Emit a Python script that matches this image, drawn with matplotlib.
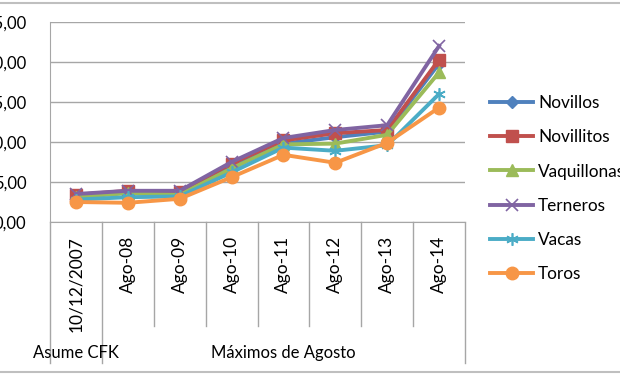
import matplotlib
matplotlib.use("Agg")
import matplotlib.pyplot as plt
from matplotlib.lines import Line2D
import numpy as np

plt.rcParams['font.family'] = ['Lato', 'DejaVu Sans']

categories = ["10/12/2007", "Ago-08", "Ago-09", "Ago-10", "Ago-11", "Ago-12", "Ago-13", "Ago-14"]
groups = ["Asume CFK", "Máximos de Agosto"]
group_sizes = [1, 7]

novillos    = [3.2, 3.7, 3.5, 7.0, 9.8, 10.6, 11.3, 19.8]
novillitos  = [3.4, 3.9, 3.8, 7.3, 10.2, 11.1, 11.5, 20.3]
vaquillonas = [3.1, 3.6, 3.4, 6.7, 9.7, 9.8, 10.9, 18.7]
terneros    = [3.5, 3.9, 3.9, 7.5, 10.5, 11.5, 12.1, 22.0]
vacas       = [2.8, 3.1, 3.2, 6.2, 9.3, 8.9, 9.6, 16.0]
toros       = [2.5, 2.4, 2.9, 5.6, 8.4, 7.4, 9.9, 14.3]

series_names = ["Novillos", "Novillitos", "Vaquillonas", "Terneros", "Vacas", "Toros"]
series_vals = [novillos, novillitos, vaquillonas, terneros, vacas, toros]
colors = ["#4F81BD", "#C0504D", "#9BBB59", "#8064A2", "#4BACC6", "#F79646"]
markers = ["D", "s", "^", "x", (6, 2, 0), "o"]
msizes = [6, 8, 8, 9, 9, 9]

fig = plt.figure(figsize=(6.2, 3.75), dpi=100)
W, H = 620, 375
L, R, T, B = 50, 465, 22, 222
ax = fig.add_axes([L / W, 1 - B / H, (R - L) / W, (B - T) / H])

x = np.arange(len(categories))
for name, vals, c, m, ms in zip(series_names, series_vals, colors, markers, msizes):
    ax.plot(x, vals, color=c, lw=2.8, marker=m, markersize=ms,
            markerfacecolor=c, markeredgecolor=c, markeredgewidth=1.2 if m in ("x", (6, 2, 0)) else 1,
            label=name, solid_joinstyle='round')

ax.set_xlim(-0.5, len(categories) - 0.5)
ax.set_ylim(0, 25)
ax.set_yticks(np.arange(0, 26, 5))
ax.set_yticklabels([f"{v:.2f}".replace(".", ",") for v in np.arange(0, 26, 5)], fontsize=12)
ax.yaxis.grid(True, color="#A6A6A6", lw=1)
ax.set_axisbelow(True)
ax.tick_params(axis='y', length=0, pad=17)
ax.tick_params(axis='x', length=0)
ax.set_xticks([])
for s in ["top", "right"]:
    ax.spines[s].set_visible(False)
ax.spines["left"].set_color("#A6A6A6")
ax.spines["bottom"].set_color("#A6A6A6")

# multi-level category axis
trans = ax.get_xaxis_transform()
px = 1.0 / (B - T)  # one pixel in axes-y units
for i in range(len(categories) + 1):
    xb = i - 0.5
    is_group = xb in (-0.5, 0.5, len(categories) - 0.5)
    ybot = -(363 - B) * px if is_group else -(326 - B) * px
    ax.add_line(Line2D([xb, xb], [0, ybot], transform=trans, color="#A6A6A6",
                       lw=1, clip_on=False))
for i, lab in enumerate(categories):
    ax.text(i, -(236 - B) * px, lab, transform=trans, rotation=90,
            ha='center', va='top', fontsize=12.5)
start = 0
for g, n in zip(groups, group_sizes):
    center = start + (n - 1) / 2
    ax.text(center, -(353 - B) * px, g, transform=trans, ha='center', va='center',
            fontsize=12)
    start += n

leg = ax.legend(loc='upper left', bbox_to_anchor=(490 / W, 1 - 95 / H),
                bbox_transform=fig.transFigure, frameon=False, fontsize=12.4,
                handlelength=2.5, labelspacing=1.06, handletextpad=0.3,
                borderpad=0, borderaxespad=0)

# outer chart border lines
fig.add_artist(Line2D([0, 1], [1 - 3 / H, 1 - 3 / H], transform=fig.transFigure,
                      color="#BFBFBF", lw=1.5))
fig.add_artist(Line2D([0, 1], [1 - 372 / H, 1 - 372 / H], transform=fig.transFigure,
                      color="#BFBFBF", lw=1.5))

fig.savefig("out.png", dpi=100)
